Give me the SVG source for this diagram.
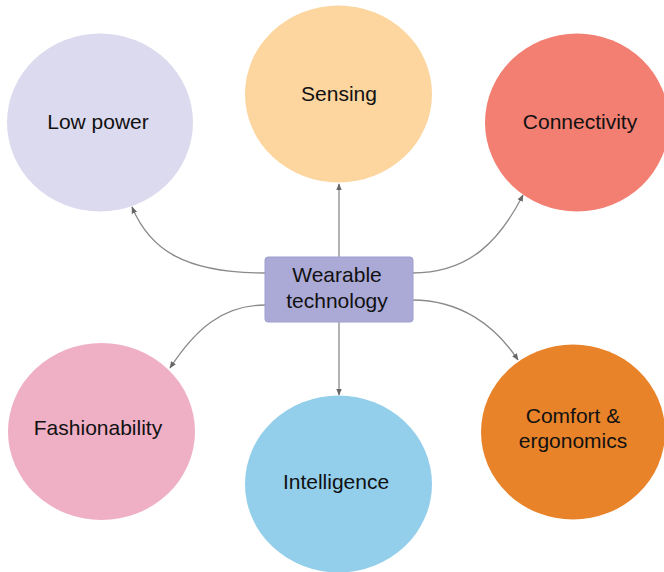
<svg xmlns="http://www.w3.org/2000/svg" width="664" height="572" viewBox="0 0 664 572">
<defs>
<style>
.lbl{font-family:"Liberation Sans",Arial,sans-serif;font-size:21px;fill:#111;text-anchor:middle}
.con{fill:none;stroke:#8a8a8a;stroke-width:1.3}
</style>
<marker id="ah" viewBox="0 0 10 10" refX="9" refY="5" markerWidth="7" markerHeight="7" markerUnits="userSpaceOnUse" orient="auto">
<path d="M0,1 L10,5 L0,9 Z" fill="#666"/>
</marker>
</defs>
<rect width="664" height="572" fill="#fff"/>
<g id="connectors">
<path class="con" d="M339,257 L339,184" marker-end="url(#ah)"/>
<path class="con" d="M339,322 L339,395" marker-end="url(#ah)"/>
<path class="con" d="M265,273 C185,273 150,250 132,207" marker-end="url(#ah)"/>
<path class="con" d="M412,273 C470,273 500,240 523,195" marker-end="url(#ah)"/>
<path class="con" d="M265,305 C222,305 195,330 170,368" marker-end="url(#ah)"/>
<path class="con" d="M412,300 C460,300 495,325 518,360" marker-end="url(#ah)"/>
</g>
<g id="low-power">
<ellipse cx="100" cy="122.5" rx="93" ry="89" fill="#DCDAEE"/>
<text class="lbl" x="98" y="129">Low power</text>
</g>
<g id="sensing">
<ellipse cx="338.5" cy="94" rx="93.5" ry="88.5" fill="#FCD59F"/>
<text class="lbl" x="339" y="101">Sensing</text>
</g>
<g id="connectivity">
<ellipse cx="577" cy="122.5" rx="92" ry="89" fill="#F27F72"/>
<text class="lbl" x="580" y="129">Connectivity</text>
</g>
<g id="fashionability">
<ellipse cx="101.5" cy="431.5" rx="93.5" ry="88.5" fill="#EFAFC5"/>
<text class="lbl" x="98" y="435">Fashionability</text>
</g>
<g id="intelligence">
<ellipse cx="338.5" cy="484" rx="93.5" ry="88.5" fill="#93CEEB"/>
<text class="lbl" x="336" y="489">Intelligence</text>
</g>
<g id="comfort">
<ellipse cx="573" cy="432" rx="92" ry="87.5" fill="#E8832A"/>
<text class="lbl" x="573" y="423">Comfort &amp;</text>
<text class="lbl" x="573" y="448">ergonomics</text>
</g>
<g id="wearable">
<rect x="265" y="257" width="148" height="65" rx="3" fill="#ABA9D6" stroke="#A09ED0" stroke-width="1"/>
<text class="lbl" x="337" y="282">Wearable</text>
<text class="lbl" x="337" y="308">technology</text>
</g>
</svg>
